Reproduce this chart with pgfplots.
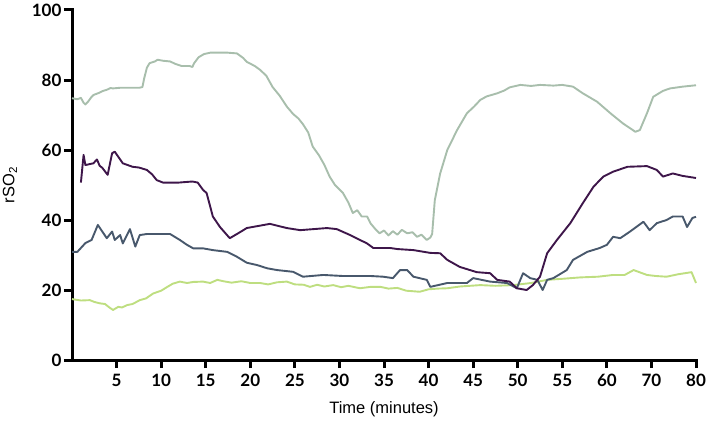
\documentclass[border=0pt]{standalone}
\usepackage{pgfplots}
\pgfplotsset{compat=1.18}
\usepackage{fontspec}
\setmainfont{Liberation Sans}
\newfontfamily\tickfont{Lato}
\definecolor{sage}{RGB}{168,190,172}
\definecolor{plum}{RGB}{62,22,74}
\definecolor{slate}{RGB}{72,88,108}
\definecolor{lime}{RGB}{190,222,128}
\begin{document}
\begin{tikzpicture}
\begin{axis}[
  name=ax,
  scale only axis,
  width=624pt, height=350pt,
  xmin=0, xmax=70, ymin=0, ymax=100,
  axis x line*=bottom, axis y line*=left,
  axis line style={line width=3pt, line cap=rect},
  every tick/.style={line width=3pt, black},
  major tick length=8pt,
  tick align=outside,
  xtick={5,10,...,70},
  xticklabels={5,10,15,20,25,30,35,40,45,50,55,60,70,80},
  ytick={0,20,...,100},
  tick label style={font=\tickfont\bfseries\fontsize{17}{19}\selectfont},
  /pgf/number format/assume math mode=true,
  xticklabel style={yshift=-3pt},
  yticklabel style={xshift=1pt},
  xlabel={Time (minutes)},
  ylabel={rSO\textsubscript{2}},
  label style={font=\fontsize{16.5}{18}\selectfont},
  xlabel style={yshift=-8pt},
  ylabel style={yshift=8pt},
  clip=false,
  every axis plot/.append style={line width=1.9pt, line join=round},
]
% light sage series
\addplot[sage] coordinates {
(0,74.8) (0.6,74.5) (1.0,74.9) (1.3,73.5) (1.5,73.0) (1.8,73.8) (2.2,75.2) (2.4,75.7)
(3.0,76.3) (3.5,76.9) (3.9,77.2) (4.3,77.7) (4.6,77.6) (5.5,77.8) (6.5,77.8) (7.6,77.8)
(7.9,78.0) (8.1,80.5) (8.4,83.5) (8.7,84.8) (9.3,85.3) (9.6,85.8) (10.2,85.5) (11.0,85.3)
(11.6,84.6) (12.3,84.0) (13.2,84.0) (13.5,83.7) (13.7,84.8) (14.2,86.5) (14.8,87.4)
(15.5,87.8) (16.5,87.8) (17.5,87.8) (18.5,87.6) (19.2,86.3) (19.6,85.2) (20.5,84.0)
(21.1,82.9) (21.8,81.2) (22.5,78.0) (23.3,75.5) (24.1,72.4) (24.8,70.3) (25.4,69.0)
(25.9,67.4) (26.5,65.0) (27.0,61.0) (27.7,58.5) (28.3,55.8) (28.9,52.4) (29.5,50.0)
(30.4,47.7) (31.0,45.0) (31.5,42.0) (32.0,42.8) (32.5,41.0) (33.1,41.0) (33.5,39.0)
(34.0,37.5) (34.5,36.2) (35.0,37.0) (35.5,35.6) (36.0,36.8) (36.5,35.8) (37.0,37.2)
(37.6,36.2) (38.2,36.5) (38.7,35.2) (39.2,35.8) (39.8,34.3) (40.2,35.0) (40.4,36.0)
(40.7,45.7) (41.3,53.3) (42.1,60.0) (43.2,65.7) (44.3,70.5) (45.1,72.4) (45.8,74.3)
(46.5,75.3) (47.7,76.2) (48.5,77.0) (49.1,77.9) (50.3,78.6) (51.5,78.3) (52.5,78.6)
(54.0,78.4) (55.0,78.6) (56.2,78.1) (57.3,76.2) (58.9,73.8) (60.4,70.5) (61.8,67.6)
(63.2,65.2) (63.7,65.7) (64.5,70.5) (65.2,75.2) (66.3,76.9) (67.1,77.6) (68.5,78.1) (70,78.5)
};
% lime series
\addplot[lime] coordinates {
(0,17.4) (1.0,17.0) (2.0,17.1) (2.5,16.6) (3.1,16.2) (3.7,16.0) (4.2,15.0) (4.6,14.3)
(5.2,15.2) (5.6,15.0) (6.2,15.7) (6.8,16.0) (7.6,17.1) (8.3,17.6) (9.1,19.0) (10.0,19.8)
(10.7,20.9) (11.3,21.8) (12.1,22.4) (12.9,22.0) (13.6,22.3) (14.7,22.4) (15.5,22.0)
(16.3,22.9) (17.0,22.5) (17.9,22.1) (19.0,22.5) (20.0,22.0) (21.1,22.0) (22.0,21.6)
(23.0,22.2) (24.1,22.4) (25.0,21.6) (26.0,21.5) (26.7,20.9) (27.5,21.5) (28.3,21.0)
(29.3,21.4) (30.2,20.8) (31.0,21.2) (32.3,20.5) (33.5,20.9) (34.6,20.9) (35.5,20.4)
(36.5,20.6) (37.5,19.8) (39.0,19.5) (40.0,20.2) (41.0,20.4) (42.1,20.5) (43.5,21.0)
(45.8,21.4) (47.5,21.2) (49.5,21.4) (51.5,22.0) (53.3,22.9) (55.0,23.2) (57.0,23.6)
(59.0,23.8) (60.7,24.3) (62.0,24.3) (63.0,25.7) (64.5,24.3) (65.5,24.0) (66.7,23.8)
(68.0,24.5) (69.5,25.1) (70.0,22.0)
};
% slate series
\addplot[slate] coordinates {
(0,30.9) (0.6,30.9) (1.5,33.4) (2.2,34.3) (2.9,38.6) (3.4,36.7) (3.9,34.8) (4.5,36.7)
(4.8,34.3) (5.4,35.7) (5.7,33.3) (6.5,37.4) (7.1,32.4) (7.6,35.7) (8.4,36.0) (11.0,36.0)
(12.1,34.3) (12.9,32.9) (13.6,31.9) (14.7,31.9) (15.8,31.4) (17.4,30.9) (18.5,29.5)
(19.6,27.8) (20.8,27.1) (21.9,26.2) (23.0,25.7) (24.8,25.2) (25.9,23.8) (28.2,24.3)
(30.4,24.0) (33.5,24.0) (34.9,23.8) (36.0,23.4) (36.8,25.7) (37.6,25.7) (38.3,23.8)
(39.8,22.9) (40.2,20.9) (42.1,22.0) (44.3,22.0) (45.0,23.4) (46.9,22.4) (48.8,22.0)
(49.9,20.5) (50.6,24.8) (51.4,23.4) (52.2,22.9) (52.8,20.0) (53.3,22.9) (54.0,23.4)
(55.5,25.7) (56.2,28.6) (57.8,30.9) (59.2,32.0) (60.0,32.9) (60.7,35.2) (61.5,34.8)
(62.6,36.7) (64.1,39.5) (64.8,37.1) (65.6,39.1) (66.7,40.0) (67.4,41.0) (68.5,41.0)
(69.0,38.0) (69.6,40.6) (70.0,40.9)
};
% plum series
\addplot[plum] coordinates {
(1.0,50.7) (1.3,58.6) (1.5,55.7) (2.4,56.2) (2.8,57.3) (3.1,55.5) (3.4,54.9) (4.0,52.9)
(4.5,59.1) (4.8,59.5) (5.7,56.2) (6.8,55.2) (7.5,55.0) (8.4,54.3) (9.0,53.0) (9.5,51.4)
(10.2,50.7) (12.0,50.7) (13.5,51.0) (14.1,50.7) (14.7,48.6) (15.1,47.7) (15.8,41.0)
(16.6,38.0) (17.7,34.8) (18.9,36.6) (19.6,37.7) (22.2,38.9) (24.1,37.7) (25.6,37.1)
(28.6,37.7) (29.7,37.4) (31.2,35.7) (33.1,33.3) (33.8,32.0) (35.7,32.0) (36.5,31.7)
(38.3,31.4) (40.2,30.6) (41.3,30.5) (42.1,28.6) (43.5,26.6) (45.4,25.1) (46.9,24.8)
(47.7,22.9) (49.1,22.4) (49.9,20.5) (51.0,20.0) (51.7,21.4) (52.5,23.8) (53.3,30.5)
(54.4,34.3) (55.9,39.1) (57.3,44.8) (58.5,49.5) (59.6,52.4) (60.7,53.8) (62.3,55.2)
(64.5,55.4) (65.6,54.3) (66.3,52.4) (67.4,53.3) (68.5,52.6) (70.0,52.0)
};
\end{axis}
\pgfresetboundingbox
\path ([shift={(-72pt,-66pt)}]ax.south west) rectangle ([shift={(13pt,10pt)}]ax.north east);
\end{tikzpicture}
\end{document}
